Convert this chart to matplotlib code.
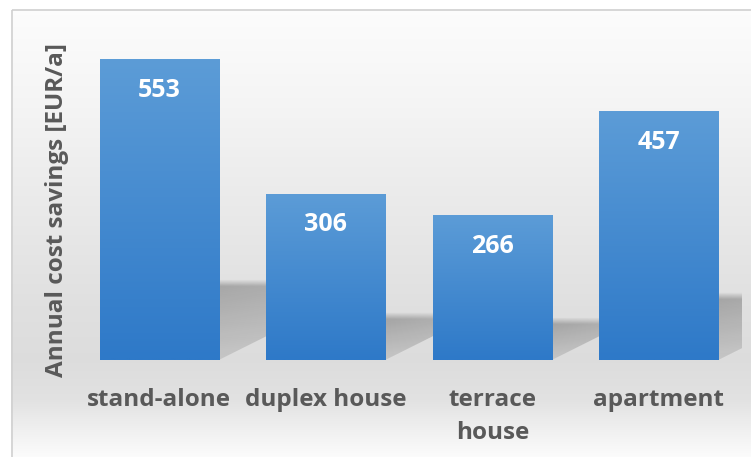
import numpy as np
import matplotlib
matplotlib.use("Agg")
import matplotlib.pyplot as plt
from matplotlib.patches import Polygon, Rectangle
from matplotlib.colors import to_rgb

categories = ["stand-alone", "duplex house", "terrace\nhouse", "apartment"]
savings = [553, 306, 266, 457]

W, H = 751, 457
fig = plt.figure(figsize=(W / 100, H / 100), dpi=100, facecolor="white")

# chart area background: soft vertical grey gradient inside a thin frame
bg = fig.add_axes([0, 0, 1, 1], zorder=-10)
bg.set_xlim(0, W)
bg.set_ylim(H, 0)
bg.axis("off")
stops_y = [9, 100, 200, 300, 360, 400, 430, 457]
stops_v = [0.99, 0.96, 0.92, 0.88, 0.865, 0.885, 0.94, 0.985]
yy = np.linspace(9, H, 300)
grey = np.interp(yy, stops_y, stops_v)
bg.imshow(np.repeat(grey[:, None], 3, axis=1)[:, None, :].repeat(2, axis=1),
          extent=(11, W, H, 9), aspect="auto", interpolation="bilinear")
bg.add_patch(Rectangle((11.5, 9.5), W, H, fill=False, edgecolor="#d0d0d0", lw=1.2))

ax_l, ax_b, ax_w, ax_h = 76 / W, 97 / H, 666 / W, 326.4 / H
ax = fig.add_axes([ax_l, ax_b, ax_w, ax_h])
ax.patch.set_alpha(0)
ymax = 600
x = np.arange(len(categories))
width = 0.715

bars = ax.bar(x, savings, width=width, color="#4a8fd2", zorder=3)

# px per data unit, used to skew the perspective shadows
px_x = 666 / len(categories)
px_y = 326.4 / ymax

top_c = np.array(to_rgb("#5c9cd7"))
bot_c = np.array(to_rgb("#2e79c8"))
for rect, xc, h in zip(bars, x, savings):
    # gradient fill of the bar, light at the top
    t = np.linspace(0, 1, 100)[:, None]
    grad = top_c * (1 - t) + bot_c * t
    im = ax.imshow(grad[:, None, :].repeat(2, axis=1),
                   extent=(xc - width / 2, xc + width / 2, 0, h),
                   aspect="auto", interpolation="bilinear", zorder=4)
    im.set_clip_path(rect)

    # soft shadow thrown up and to the right behind the bar
    hs = 0.245 * h
    blur = 7 / px_y
    top = hs + blur
    dx = 2.0 * hs * px_y / px_x
    x0, x1 = xc - width / 2, xc + width / 2
    x_end = x1 + dx * top / hs
    shadow = Polygon([(x0, 0), (x1, 0), (x_end, top), (x0, top)],
                     closed=True, transform=ax.transData, facecolor="none")
    ny, nx = 120, 60
    ys = np.linspace(top, 0, ny)[:, None]
    xs = np.linspace(0, 1, nx)[None, :]
    a = np.where(ys > hs, 0.26 * (1 - (ys - hs) / blur),
                 0.10 + 0.16 * (ys / hs))
    a = np.clip(a, 0, 1) * (1 - 0.3 * xs)
    rgba = np.zeros((ny, nx, 4))
    rgba[..., 3] = a
    sim = ax.imshow(rgba, extent=(x1, x_end, 0, top),
                    aspect="auto", interpolation="bilinear", zorder=1)
    sim.set_clip_path(shadow)

    ax.annotate(f"{h}", (xc, h), xytext=(0, -22.5), textcoords="offset points",
                ha="center", va="center", color="white", fontsize=18,
                fontweight="bold", family="Open Sans", zorder=5)

ax.set_xlim(-0.5, len(categories) - 0.5)
ax.set_ylim(0, ymax)
ax.set_yticks([])
ax.set_xticks(x)
ax.set_xticklabels(categories, fontsize=17.5, fontweight="bold", family="Open Sans",
                   color="#595959", linespacing=1.5)
ax.tick_params(axis="x", length=0, pad=20.5)
for s in ax.spines.values():
    s.set_visible(False)

fig.text(57 / W, 1 - 210 / H, "Annual cost savings [EUR/a]", rotation=90,
         ha="center", va="center", fontsize=17.5, fontweight="bold",
         family="Open Sans", color="#595959")

fig.savefig("out.png", dpi=100)
